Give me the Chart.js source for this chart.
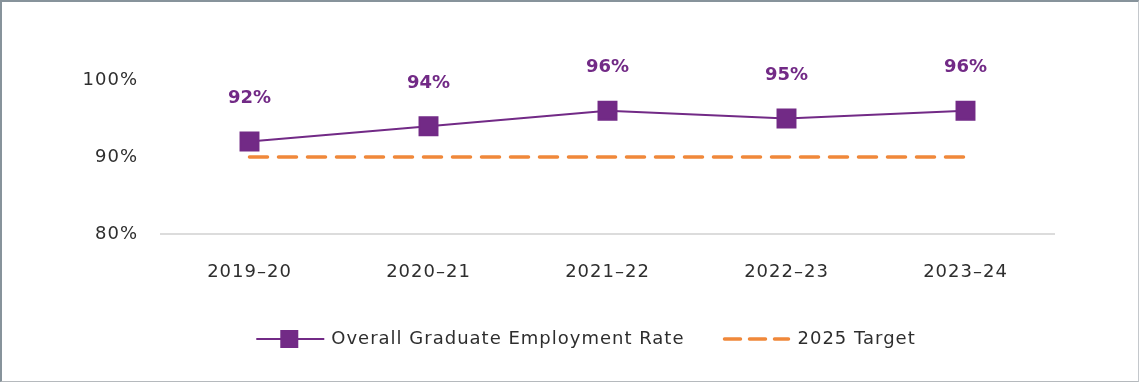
<!DOCTYPE html>
<html>
<head>
<meta charset="utf-8">
<script src="https://cdn.jsdelivr.net/npm/chart.js@4.4.1/dist/chart.umd.min.js"></script>
<style>
  html, body { margin: 0; padding: 0; background: #fff; }
  .frame {
    width: 1136px; height: 379px;
    border-top: 2px solid #87939b;
    border-left: 2px solid #87939b;
    border-right: 1px solid #c4c8cc;
    border-bottom: 1px solid #b5b9bd;
  }
</style>
</head>
<body>
<div class="frame"><canvas id="rate-chart" width="1136" height="379"></canvas></div>
<script>
// data
const years = ["2019–20", "2020–21", "2021–22", "2022–23", "2023–24"];
const employmentRate = [92, 94, 96, 95, 96];
const targetRate = [90, 90, 90, 90, 90];
const yTicks = [80, 90, 100];
const seriesNames = ["Overall Graduate Employment Rate", "2025 Target"];

const purple = '#722a86';
const orange = '#f0883a';
const textGrey = '#2e2e2e';
const fontFamily = '"DejaVu Sans", "Open Sans", sans-serif';

// wider text spacing, the original font is quite wide
const spacing = {
    id: 'spacing',
    beforeUpdate(chart) { chart.ctx.letterSpacing = '1px'; },
    beforeDraw(chart) { chart.ctx.letterSpacing = '1px'; }
};

// value labels above the purple points
const valueLabels = {
    id: 'valueLabels',
    afterDatasetsDraw(chart) {
        const ctx = chart.ctx;
        const meta = chart.getDatasetMeta(0);
        ctx.save();
        ctx.letterSpacing = '0px';
        ctx.font = 'bold 18px ' + fontFamily;
        ctx.fillStyle = purple;
        ctx.textAlign = 'center';
        ctx.textBaseline = 'middle';
        meta.data.forEach((pt, i) => {
            ctx.fillText(employmentRate[i] + '%', pt.x, pt.y - 43);
        });
        ctx.restore();
    }
};

// legend drawn under the axis
const customLegend = {
    id: 'customLegend',
    afterDraw(chart) {
        const ctx = chart.ctx;
        const y = 337;
        const swatch = 68;
        const gap = 7;
        const between = 38;
        ctx.save();
        ctx.letterSpacing = '1px';
        ctx.font = '18px ' + fontFamily;
        const w1 = ctx.measureText(seriesNames[0]).width;
        const w2 = ctx.measureText(seriesNames[1]).width;
        const total = swatch + gap + w1 + between + swatch + gap + w2;
        let x = 584 - total / 2;

        // purple line + square
        ctx.strokeStyle = purple;
        ctx.lineWidth = 2;
        ctx.beginPath();
        ctx.moveTo(x, y);
        ctx.lineTo(x + swatch, y);
        ctx.stroke();
        ctx.fillStyle = purple;
        ctx.fillRect(x + 33 - 9, y - 9, 18, 18);
        x += swatch + gap;
        ctx.fillStyle = textGrey;
        ctx.textBaseline = 'middle';
        ctx.fillText(seriesNames[0], x, y);
        x += w1 + between;

        // orange dashes
        ctx.strokeStyle = orange;
        ctx.lineWidth = 3.5;
        ctx.lineCap = 'round';
        ctx.setLineDash([16, 9]);
        ctx.beginPath();
        ctx.moveTo(x + 2, y);
        ctx.lineTo(x + swatch - 2, y);
        ctx.stroke();
        ctx.setLineDash([]);
        x += swatch + gap;
        ctx.fillText(seriesNames[1], x, y);
        ctx.restore();
    }
};

const rateCanvas = document.getElementById("rate-chart");

let rateChart = new Chart(rateCanvas, {
    type: 'line',
    data: {
        labels: years,
        datasets: [{
            label: seriesNames[0],
            data: employmentRate,
            borderColor: purple,
            backgroundColor: purple,
            borderWidth: 2,
            pointStyle: 'rect',
            pointRadius: 12.7,
            pointHoverRadius: 12.7,
            tension: 0,
            order: 0
        }, {
            label: seriesNames[1],
            data: targetRate,
            borderColor: orange,
            borderWidth: 3.5,
            borderDash: [18, 11],
            borderCapStyle: 'round',
            pointRadius: 0,
            order: 1
        }]
    },
    options: {
        responsive: false,
        animation: false,
        layout: {
            padding: { top: 78, left: 0, right: 83, bottom: 0 }
        },
        scales: {
            x: {
                offset: true,
                grid: { display: false, drawTicks: false },
                border: { display: false },
                ticks: {
                    color: textGrey,
                    padding: 28,
                    font: { family: fontFamily, size: 18 }
                },
                afterFit(scale) { scale.height = 147; }
            },
            y: {
                min: 80,
                max: 100,
                afterBuildTicks(scale) {
                    scale.ticks = yTicks.map(v => ({ value: v }));
                },
                grid: {
                    drawTicks: false,
                    lineWidth: 2,
                    color: ctx => ctx.tick && ctx.tick.value === 80 ? '#dcdcdc' : 'rgba(0,0,0,0)'
                },
                border: { display: false },
                ticks: {
                    color: textGrey,
                    padding: 22,
                    font: { family: fontFamily, size: 18 },
                    callback: v => v + '%'
                },
                afterFit(scale) { scale.width = 158; }
            }
        },
        plugins: {
            legend: { display: false },
            tooltip: { enabled: false }
        }
    },
    plugins: [spacing, valueLabels, customLegend]
});
</script>
</body>
</html>
